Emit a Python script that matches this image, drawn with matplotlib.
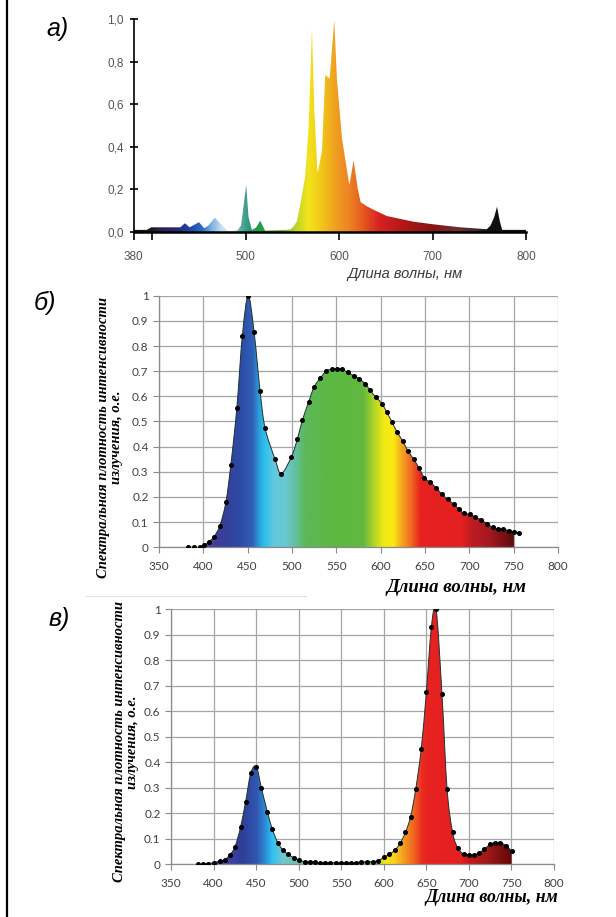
import numpy as np
import matplotlib
matplotlib.use('Agg')
import matplotlib.pyplot as plt
from matplotlib import font_manager
from matplotlib.colors import LinearSegmentedColormap
from matplotlib.path import Path
from matplotlib.patches import PathPatch

# ---- data: панель а) (натриевая лампа)
a_wl = [380, 394, 399, 402, 430, 435, 440, 450, 455.5, 460, 467, 474, 480, 490.5, 495,
        500.5, 503, 506.6, 511, 515.5, 520.8, 544, 548, 551, 554.8, 558, 563.7, 567.3,
        570.9, 573.4, 576.9, 581.6, 585.1, 589.8, 594.8, 597.6, 603, 610.9, 615.5, 619.8,
        623, 630, 637, 651, 680, 701, 730, 758, 762, 766, 769, 772, 774.5, 780, 800]
a_val = [0.01, 0.01, 0.022, 0.022, 0.022, 0.041, 0.022, 0.046, 0.018, 0.03, 0.067, 0.035,
         0.006, 0.006, 0.03, 0.22, 0.07, 0.01, 0.02, 0.053, 0.006, 0.01, 0.012, 0.025, 0.05,
         0.12, 0.26, 0.49, 0.956, 0.57, 0.275, 0.38, 0.737, 0.72, 0.995, 0.72, 0.44, 0.22,
         0.337, 0.205, 0.14, 0.12, 0.104, 0.075, 0.048, 0.036, 0.022, 0.013, 0.03, 0.07,
         0.119, 0.05, 0.01, 0.01, 0.01]
a_yticks = [0, 0.2, 0.4, 0.6, 0.8, 1.0]
a_ylabels = ['0,0', '0,2', '0,4', '0,6', '0,8', '1,0']
a_xticks = [380, 400, 500, 600, 700, 800]
a_xlabels = ['380', '', '500', '600', '700', '800']

# ---- data: панель б) (белый светодиод)
b_wl = [382.4, 389, 395.7, 401, 406.3, 412, 418.7, 425.4, 431, 437.8, 444, 450.6, 457.3,
        464, 469.7, 480.8, 487.9, 499.4, 506, 511.8, 518.9, 525, 531.8, 538.4, 545, 550.4,
        556, 562.8, 569.5, 576, 582.7, 588, 594.7, 601.4, 607, 612.9, 618.2, 624.9, 630.6,
        637.3, 643.5, 649.2, 655.9, 662.5, 669.2, 675.8, 682.5, 688.2, 693.5, 700.2, 706.9,
        713.5, 720.2, 726.8, 732.6, 737.9, 744.6, 750.3, 756.5]
b_val = [0, 0, 0, 0.009, 0.022, 0.042, 0.086, 0.179, 0.327, 0.555, 0.841, 1.0, 0.854,
         0.621, 0.473, 0.351, 0.293, 0.36, 0.43, 0.506, 0.579, 0.638, 0.672, 0.70, 0.709,
         0.71, 0.709, 0.695, 0.682, 0.669, 0.649, 0.624, 0.596, 0.571, 0.536, 0.497, 0.46,
         0.4225, 0.384, 0.35, 0.314, 0.277, 0.258, 0.237, 0.21, 0.19, 0.171, 0.152, 0.135,
         0.131, 0.12, 0.109, 0.093, 0.079, 0.073, 0.073, 0.066, 0.062, 0.058]

# ---- data: панель в) (красно-синий светодиод)
c_wl = [381.4, 387.8, 393.8, 400.8, 407.7, 413.2, 419.2, 425.2, 431.7, 437.7, 443.7, 450.2,
        456.2, 463.1, 469.1, 475.5, 481.5, 487.5, 494.5, 500.9, 506.9, 512.9, 519.4, 525.4,
        531.4, 537.4, 543.9, 549.9, 556, 562, 567.5, 572.9, 580.8, 586.8, 593.2, 600.1,
        606.1, 613.1, 619.1, 625.5, 631.5, 637.5, 644, 650, 656, 661.5, 668.4, 674.4,
        680.9, 686.9, 693.8, 699.8, 706.3, 712.3, 718.3, 724.8, 730.8, 736.8, 743.7, 750.2]
c_val = [0, 0, 0.003, 0.007, 0.013, 0.017, 0.037, 0.069, 0.145, 0.246, 0.357, 0.383, 0.30,
         0.207, 0.137, 0.085, 0.056, 0.039, 0.026, 0.017, 0.010, 0.010, 0.008, 0.0065,
         0.006, 0.006, 0.006, 0.006, 0.006, 0.006, 0.007, 0.009, 0.010, 0.010, 0.014, 0.027,
         0.039, 0.055, 0.082, 0.125, 0.187, 0.294, 0.452, 0.675, 0.932, 1.0, 0.667, 0.294,
         0.125, 0.065, 0.04, 0.037, 0.037, 0.046, 0.06, 0.078, 0.085, 0.085, 0.073, 0.052]

# ---- spectral colour stops (wavelength -> colour)
a_stops = [(380, '#141414'), (398, '#1a1a1a'), (405, '#2a1e50'), (425, '#28287a'),
           (440, '#2048a8'), (452, '#2a6cc4'), (462, '#78b0e4'), (472, '#c4dcf2'),
           (484, '#dfeaf2'), (494, '#5aa8a0'), (502, '#2e9a84'), (510, '#1f9a50'),
           (520, '#2aa03a'), (540, '#6cb83a'), (552, '#b8d428'), (566, '#f2e41c'),
           (580, '#f2c818'), (595, '#f0a020'), (610, '#ec8424'), (625, '#e65a20'),
           (642, '#d82222'), (675, '#a81616'), (700, '#881414'), (725, '#6a3030'),
           (748, '#3a2a2a'), (760, '#101010'), (800, '#101010')]
b_stops = [(398, '#5a3aa0'), (418, '#3a3c98'), (440, '#2c4aa4'), (455, '#3060b8'),
           (461, '#2a9ad8'), (468, '#2cc0ee'), (478, '#62c8e0'), (492, '#6ac8d0'),
           (503, '#62c0a0'), (514, '#5cb85a'), (545, '#5cb840'), (580, '#62b840'),
           (592, '#b0d428'), (604, '#f4ea14'), (614, '#f8ec10'), (622, '#f6b020'),
           (634, '#f06a20'), (645, '#e82020'), (692, '#e42020'), (702, '#c01c20'),
           (725, '#a01820'), (751, '#5a0c0c')]
c_stops = [(380, '#5040a0'), (418, '#4040a0'), (432, '#2e3e98'), (450, '#3058b0'),
           (460, '#2a90d8'), (468, '#30c0f0'), (480, '#70c8d0'), (500, '#70c0a0'),
           (515, '#50b060'), (580, '#50b050'), (592, '#b8d820'), (603, '#f8e810'),
           (612, '#f8d018'), (622, '#f6a020'), (634, '#f06a20'), (645, '#e82c20'),
           (652, '#e82020'), (690, '#e42020'), (702, '#c01a1a'), (722, '#a01818'),
           (751, '#600808')]


def pick_font(*names):
    have = {f.name for f in font_manager.fontManager.ttflist}
    for n in names:
        if n in have:
            return n
    return 'DejaVu Sans'


narrow = pick_font('Liberation Sans Narrow', 'Liberation Sans')
sans = pick_font('Lato', 'Liberation Sans')
serif = pick_font('Liberation Serif', 'DejaVu Serif')
italic_sans = pick_font('Liberation Sans', 'DejaVu Sans')


def curve_path(x, y, smooth, closed):
    # Excel-like smoothed line: Catmull-Rom segments drawn as cubic Bezier curves
    pts = np.column_stack([x, y])
    verts = [pts[0]]
    codes = [Path.MOVETO]
    n = len(pts)
    for i in range(n - 1):
        p1, p2 = pts[i], pts[i + 1]
        if smooth:
            p0 = pts[i - 1] if i > 0 else p1
            p3 = pts[i + 2] if i + 2 < n else p2
            verts += [p1 + (p2 - p0) / 6, p2 - (p3 - p1) / 6, p2]
            codes += [Path.CURVE4] * 3
        else:
            verts.append(p2)
            codes.append(Path.LINETO)
    if closed:
        verts += [(x[-1], 0), (x[0], 0), pts[0]]
        codes += [Path.LINETO, Path.LINETO, Path.CLOSEPOLY]
    return Path(verts, codes)


def spectrum_fill(ax, wl, val, stops, x0, x1, top, smooth):
    # gradient image clipped to the area under the curve
    pos = [(w - x0) / (x1 - x0) for w, c in stops]
    pos = [min(max(p, 0), 1) for p in pos]
    pos[0], pos[-1] = 0.0, 1.0
    cmap = LinearSegmentedColormap.from_list('spec', list(zip(pos, [c for w, c in stops])))
    grad = np.linspace(x0, x1, 600).reshape(1, -1)
    im = ax.imshow(grad, extent=[x0, x1, 0, top], aspect='auto', cmap=cmap,
                   vmin=x0, vmax=x1, origin='lower', zorder=2, interpolation='bilinear')
    patch = PathPatch(curve_path(wl, val, smooth, True), facecolor='none',
                      edgecolor='none', transform=ax.transData)
    ax.add_patch(patch)
    im.set_clip_path(patch)


fig = plt.figure(figsize=(6.16, 9.17), dpi=100)
fig.patch.set_facecolor('white')

# frame line on the left and the thin separator
fig.add_artist(plt.Line2D([7 / 616, 7 / 616], [0, 1], color='black', lw=1.6))
fig.add_artist(plt.Line2D([86 / 616, 306 / 616], [1 - 596 / 917, 1 - 596 / 917],
                          color='#d6e8dc', lw=0.8))

# ================= панель а)
ax1 = fig.add_axes([133.6 / 616, 1 - 232 / 917, (526 - 133.6) / 616, (232 - 19) / 917])
spectrum_fill(ax1, a_wl, a_val, a_stops, 380, 800, 1.0, False)
ax1.set_xlim(380, 800)
ax1.set_ylim(0, 1.0)
for s in ['top', 'right']:
    ax1.spines[s].set_visible(False)
ax1.spines['left'].set_linewidth(1.2)
ax1.spines['bottom'].set_linewidth(1.8)
ax1.spines['left'].set_zorder(5)
ax1.spines['bottom'].set_zorder(5)
ax1.set_yticks(a_yticks)
ax1.set_yticklabels(a_ylabels, family=narrow, fontsize=8.5, color='#555555')
ax1.set_xticks(a_xticks)
ax1.set_xticklabels(a_xlabels, family=narrow, fontsize=8.5, color='#555555')
ax1.tick_params(axis='y', direction='inout', length=6, width=1.2, pad=4)
ax1.tick_params(axis='x', direction='out', length=6, width=1.2, pad=8)
fig.text(405 / 616, 1 - 274 / 917, 'Длина волны, нм', ha='center', va='center',
         fontsize=10.5, style='italic', family=italic_sans, color='#3a3a3a')


def led_axes(ax, wl, val, stops, x0, x1, fill_end):
    wl = np.array(wl)
    val = np.array(val)
    m = wl <= fill_end
    spectrum_fill(ax, wl[m], val[m], stops, x0, x1, 1.0, True)
    ax.add_patch(PathPatch(curve_path(wl, val, True, False), facecolor='none',
                           edgecolor='#1e3232', lw=0.7, zorder=3))
    ax.plot(wl, val, 'o', ms=2.6, color='black', zorder=4)
    ax.set_xlim(350, 800)
    ax.set_ylim(0, 1)
    ax.set_xticks(np.arange(350, 801, 50))
    ax.set_yticks(np.round(np.arange(0, 1.01, 0.1), 1))
    ax.set_yticklabels(['0'] + ['%.1f' % v for v in np.arange(0.1, 0.95, 0.1)] + ['1'])
    ax.grid(True, color='#a6a6a6', lw=0.9, zorder=0)
    ax.set_axisbelow(True)
    for s in ['top', 'right']:
        ax.spines[s].set_visible(False)
    for s in ['left', 'bottom']:
        ax.spines[s].set_color('#8a8a8a')
        ax.spines[s].set_linewidth(0.9)
    ax.tick_params(length=4, color='#8a8a8a', labelsize=8.5, labelcolor='#404040')
    for lab in ax.get_xticklabels() + ax.get_yticklabels():
        lab.set_family(sans)


ylab = 'Спектральная плотность интенсивности\nизлучения, о.е.'

# ================= панель б)
ax2 = fig.add_axes([159 / 616, 1 - 547.3 / 917, (558 - 159) / 616, (547.3 - 295.7) / 917])
led_axes(ax2, b_wl, b_val, b_stops, 398, 751, 751)
ax2.tick_params(axis='x', pad=6)
fig.text(110 / 616, 1 - 437 / 917, ylab, rotation=90, ha='center', va='center',
         family=serif, weight='bold', style='italic', fontsize=10.5, linespacing=1.05)
fig.text(526 / 616, 1 - 588 / 917, 'Длина волны, нм', ha='right', va='center',
         family=serif, weight='bold', style='italic', fontsize=13.5)

# ================= панель в)
ax3 = fig.add_axes([171 / 616, 1 - 864.3 / 917, (554 - 171) / 616, (864.3 - 609.3) / 917])
led_axes(ax3, c_wl, c_val, c_stops, 380, 751, 751)
ax3.tick_params(axis='x', pad=6)
fig.text(126 / 616, 1 - 742 / 917, ylab, rotation=90, ha='center', va='center',
         family=serif, weight='bold', style='italic', fontsize=10.5, linespacing=1.05)
fig.text(558 / 616, 1 - 898 / 917, 'Длина волны, нм', ha='right', va='center',
         family=serif, weight='bold', style='italic', fontsize=12.8)

# panel letters
fig.text(58 / 616, 1 - 29 / 917, 'а)', ha='center', va='center', fontsize=18,
         style='italic', family=italic_sans)
fig.text(45 / 616, 1 - 303 / 917, 'б)', ha='center', va='center', fontsize=18,
         style='italic', family=italic_sans)
fig.text(59 / 616, 1 - 619 / 917, 'в)', ha='center', va='center', fontsize=18,
         style='italic', family=italic_sans)

fig.savefig('out.png', dpi=100, facecolor='white')
